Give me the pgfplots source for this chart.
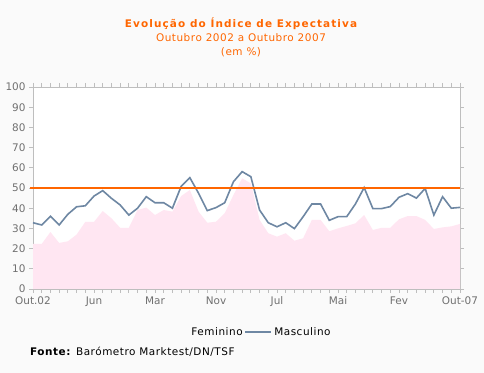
\documentclass[border=0pt]{standalone}
\usepackage{pgfplots}
\pgfplotsset{compat=1.18}
\usepackage{pgfplotstable}
\usepackage{fontspec}
\setmainfont{DejaVu Sans}
\newfontfamily\spaced[LetterSpace=5]{DejaVu Sans}
\newfontfamily\titlefont[LetterSpace=10.5]{DejaVu Sans}
\definecolor{bg}{HTML}{FAFAFA}
\definecolor{org}{HTML}{FF6600}
\definecolor{slate}{HTML}{6E87A3}
\definecolor{pinkfill}{HTML}{FFE6F2}
\definecolor{axgray}{HTML}{BEBEBE}
\definecolor{lblgray}{HTML}{707070}

\pgfplotstableread{
idx fem masc
0 22.3 32.8
1 22.3 31.7
2 28.2 36.0
3 22.8 31.7
4 23.6 37.0
5 26.9 40.7
6 33.2 41.2
7 33.2 46.0
8 38.6 48.7
9 35.0 44.9
10 30.3 41.6
11 30.3 36.6
12 39.1 40.0
13 40.3 45.7
14 36.6 42.7
15 39.1 42.7
16 38.3 40.0
17 46.0 50.8
18 49.0 55.1
19 38.3 47.4
20 32.8 38.8
21 33.3 40.3
22 37.5 42.7
23 46.5 53.1
24 54.8 58.1
25 52.3 55.6
26 34.2 39.1
27 27.6 32.8
28 25.9 30.8
29 27.6 32.8
30 23.9 29.9
31 25.1 35.8
32 34.2 42.1
33 34.2 42.1
34 28.6 34.0
35 30.0 35.8
36 31.2 35.8
37 32.5 42.1
38 36.6 50.2
39 29.2 39.8
40 30.3 39.8
41 30.3 40.8
42 34.5 45.4
43 36.1 47.2
44 36.1 45.0
45 34.2 49.8
46 29.7 36.6
47 30.5 45.7
48 31.0 40.0
49 32.2 40.4
}\datatable

\begin{document}
\begin{tikzpicture}[font=\fontsize{10.5}{12}\selectfont]
\path[use as bounding box, fill=bg] (0,0) rectangle (484bp,373bp);
\node[text=org, font=\fontsize{10.5}{12}\titlefont\bfseries] at (241bp,349bp) {Evolução do Índice de Expectativa};
\node[text=org, font=\fontsize{10.5}{12}\spaced] at (241bp,335bp) {Outubro 2002 a Outubro 2007};
\node[text=org, font=\fontsize{10.5}{12}\spaced] at (241bp,321bp) {(em \%)};
\node[anchor=west, inner sep=0pt, font=\fontsize{10.5}{12}\spaced] at (30bp,21bp) {\textbf{Fonte:} Barómetro Marktest/DN/TSF};
\begin{axis}[
  at={(33bp,84bp)}, anchor=south west,
  width=427bp, height=202bp, scale only axis,
  xmin=0, xmax=49, ymin=0, ymax=100,
  ytick={0,10,...,100},
  xtick={0,7,...,49},
  xticklabels={Out.02,Jun,Mar,Nov,Jul,Mai,Fev,Out-07},
  minor xtick={0,...,49},
  tick align=outside,
  major tick length=4bp, minor tick length=4bp,
  axis line style={axgray, line width=0.8pt},
  every tick/.style={axgray, line width=0.8pt},
  tick label style={lblgray, font=\fontsize{10.5}{12}\selectfont},
  /pgf/number format/assume math mode=true,
  axis background/.style={fill=white},
  clip=false,
  legend style={draw=none, fill=none, at={(axis description cs:0.534,-0.213)}, anchor=center,
    legend columns=-1, font=\fontsize{10.5}{12}\spaced, text=black,
    /tikz/every even column/.append style={column sep=0pt},
    nodes={inner xsep=2bp}},
]
\addplot[fill=pinkfill, draw=none, legend image code/.code={}] table[x=idx, y=fem] {\datatable} \closedcycle;
\addlegendentry{Feminino}
\addplot[slate, line width=1.6pt, legend image code/.code={\draw[slate, line width=1.6pt] (0bp,0bp) -- (26bp,0bp);}] table[x=idx, y=masc] {\datatable};
\addlegendentry{Masculino}
\addplot[org, line width=2.5pt, forget plot] coordinates {(-0.35,50) (49,50)};
\end{axis}
\end{tikzpicture}
\end{document}
